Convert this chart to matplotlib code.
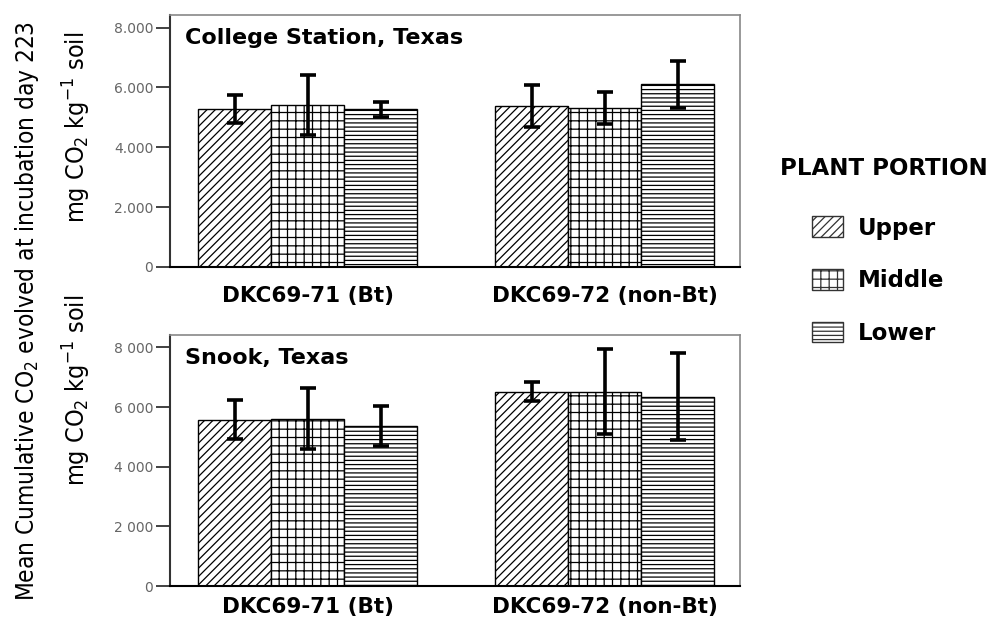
import matplotlib
matplotlib.use("Agg")
import matplotlib.pyplot as plt
import matplotlib.patches as mpatches
import numpy as np

plt.rcParams['font.family'] = ['DejaVu Sans']
plt.rcParams['mathtext.default'] = 'regular'
plt.rcParams['hatch.linewidth'] = 0.9

# cumulative CO2 (mg CO2 / kg soil) at day 223, mean and error
hybrids = ['DKC69-71 (Bt)', 'DKC69-72 (non-Bt)']
portions = ['Upper', 'Middle', 'Lower']
hatches = ['////', '++', '----']

cs_mean = [[5270, 5400, 5270], [5370, 5300, 6100]]
cs_err = [[470, 1000, 250], [700, 530, 780]]
sn_mean = [[5580, 5610, 5380], [6520, 6520, 6350]]
sn_err = [[650, 1020, 670], [320, 1430, 1450]]

cs_ticks = ['0', '2.000', '4.000', '6.000', '8.000']
sn_ticks = ['0', '2 000', '4 000', '6 000', '8 000']

fig = plt.figure(figsize=(9.94, 6.2), dpi=100)
ax1 = fig.add_axes([0.171, 0.5694, 0.573, 0.4065])
ax2 = fig.add_axes([0.171, 0.0548, 0.573, 0.405])

width = 0.246
x = np.arange(len(hybrids))


def panel(ax, mean, err, ticks, title, xpad):
    mean = np.array(mean)
    err = np.array(err)
    for j in range(len(portions)):
        pos = x + (j - 1) * width
        ax.bar(pos, mean[:, j], width, color='white', edgecolor='black',
               hatch=hatches[j], linewidth=1.0, zorder=2)
        ax.errorbar(pos, mean[:, j], yerr=err[:, j], fmt='none', ecolor='black',
                    elinewidth=2.6, capsize=5.5, capthick=2.6, zorder=3)
    ax.set_xlim(-0.465, 1.455)
    ax.set_ylim(0, 8420)
    ax.set_yticks([0, 2000, 4000, 6000, 8000])
    ax.set_yticklabels(ticks, color='#666666', fontsize=10)
    ax.set_xticks(x)
    ax.set_xticklabels(hybrids, fontsize=15.5, fontweight='bold')
    ax.tick_params(axis='x', length=0, pad=xpad)
    ax.tick_params(axis='y', length=10, width=1.3, color='#333333', pad=2)
    for s in ['top', 'right']:
        ax.spines[s].set_color('#888888')
        ax.spines[s].set_linewidth(1.2)
    ax.spines['left'].set_color('#333333')
    ax.spines['left'].set_linewidth(1.5)
    ax.spines['bottom'].set_linewidth(1.5)
    ax.text(0.026, 0.91, title, transform=ax.transAxes, fontsize=16,
            fontweight='bold', va='center', ha='left')


panel(ax1, cs_mean, cs_err, cs_ticks, 'College Station, Texas', 14)
panel(ax2, sn_mean, sn_err, sn_ticks, 'Snook, Texas', 8)

fig.text(0.027, 0.498, 'Mean Cumulative CO$_2$ evolved at incubation day 223',
         rotation=90, ha='center', va='center', fontsize=17.5,
         fontstretch='condensed')
for yc in [0.795, 0.371]:
    fig.text(0.0775, yc, 'mg CO$_2$ kg$^{-1}$ soil', rotation=90,
             ha='center', va='center', fontsize=18, fontstretch='condensed')

# legend: title on its own, entries below
fig.text(0.889, 0.729, 'PLANT PORTION', ha='center', va='center',
         fontsize=16.5, fontweight='bold')
handles = [mpatches.Patch(facecolor='white', edgecolor='#333333', hatch=h,
                          label=p) for h, p in zip(hatches, portions)]
fig.legend(handles=handles, loc='upper left', bbox_to_anchor=(0.817, 0.651),
           frameon=False, borderpad=0, borderaxespad=0, labelspacing=1.28,
           handlelength=1.35, handleheight=1.02, handletextpad=0.65,
           prop={'weight': 'bold', 'size': 16.5})

fig.savefig('out.png', dpi=100)
